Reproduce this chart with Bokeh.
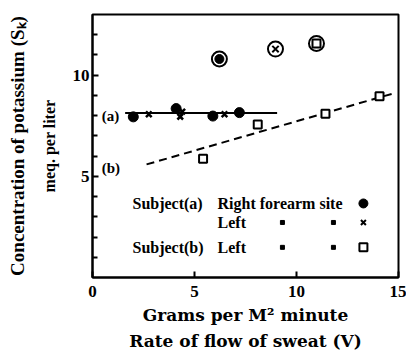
from bokeh.plotting import figure
from bokeh.models import FixedTicker, Range1d, Title
from bokeh.core.properties import value
from bokeh.embed import file_html
from bokeh.resources import INLINE

# ---- data ----
a_right_x = [2.0, 4.1, 5.9, 7.2]
a_right_y = [7.94, 8.35, 7.98, 8.15]
a_left_x = [2.76, 4.4, 4.3, 6.47]
a_left_y = [8.07, 8.2, 7.95, 8.07]
b_left_x = [5.42, 8.1, 11.42, 14.07]
b_left_y = [5.87, 7.56, 8.1, 8.96]
mean_a_right = (6.22, 10.8)
mean_a_left = (8.97, 11.29)
mean_b_left = (10.98, 11.57)
line_a_x = [1.6, 9.05]
line_a_y = [8.13, 8.13]
line_b_x = [2.65, 14.72]
line_b_y = [5.59, 9.09]
x_ticks = [0, 5, 10, 15]
y_ticks = [5, 10]
y_minor = [1, 2, 3, 4, 6, 7, 8, 9, 11, 12]

FONT = "Liberation Serif"
WIDE = "DejaVu Serif"
W, H = 406, 351

p = figure(width=W, height=H, x_range=Range1d(0, 15), y_range=Range1d(0, 13),
           output_backend="svg", toolbar_location=None,
           min_border_left=92, min_border_right=8, min_border_top=14, min_border_bottom=74)
p.grid.visible = False
p.background_fill_color = "white"
p.outline_line_color = "black"
p.outline_line_width = 2

for ax in (p.xaxis, p.yaxis):
    ax.axis_line_width = 2
    ax.axis_line_color = "black"
    ax.major_tick_out = 0
    ax.major_tick_in = 6
    ax.minor_tick_out = 0
    ax.minor_tick_in = 5
    ax.major_tick_line_width = 2
    ax.minor_tick_line_width = 2
    ax.major_label_text_font = FONT
    ax.major_label_text_font_style = "bold"
    ax.major_label_text_font_size = "17px"
    ax.major_label_text_color = "black"

p.xaxis.ticker = FixedTicker(ticks=x_ticks, minor_ticks=[])
p.yaxis.ticker = FixedTicker(ticks=y_ticks, minor_ticks=y_minor)
p.xaxis.major_label_standoff = 8
p.yaxis.major_label_standoff = 3

# lines
p.line(line_a_x, line_a_y, line_color="black", line_width=2)
p.line(line_b_x, line_b_y, line_color="black", line_width=2, line_dash="8 5")

# points
p.scatter(a_right_x, a_right_y, marker="circle", size=10, fill_color="black", line_color="black")
p.scatter(a_left_x, a_left_y, marker="x", size=8, line_color="black", line_width=2.5)
p.scatter(b_left_x, b_left_y, marker="square", size=8, fill_color="white", line_color="black", line_width=2)

# means (circled)
mx = [mean_a_right[0], mean_a_left[0], mean_b_left[0]]
my = [mean_a_right[1], mean_a_left[1], mean_b_left[1]]
p.scatter(mx, my, marker="circle", size=15, fill_color="white", line_color="black", line_width=2)
p.scatter([mean_a_right[0]], [mean_a_right[1]], marker="circle", size=9, fill_color="black", line_color="black")
p.scatter([mean_a_left[0]], [mean_a_left[1]], marker="x", size=9, line_color="black", line_width=2)
p.scatter([mean_b_left[0]], [mean_b_left[1]], marker="square", size=8, fill_color="white", line_color="black", line_width=2)

# in-plot labels
p.text([0.45, 0.45], [8.0, 5.4], text=["(a)", "(b)"], text_font=value(FONT), text_font_style="bold",
       text_font_size="15px", text_baseline="middle", text_align="left", text_color="black")

# legend rows
lx = [1.96, 6.13, 1.96, 6.13, 6.13]
ly = [3.66, 3.66, 1.49, 1.49, 2.72]
lt = ["Subject(a)", "Right forearm site", "Subject(b)", "Left", "Left"]
p.text(lx, ly, text=lt, text_font=value(FONT), text_font_style="bold", text_font_size="16px",
       text_baseline="middle", text_align="left", text_color="black")
p.scatter([13.28], [3.66], marker="circle", size=9, fill_color="black", line_color="black")
p.scatter([13.28], [2.72], marker="x", size=7, line_color="black", line_width=2)
p.scatter([13.28], [1.49], marker="square", size=8, fill_color="white", line_color="black", line_width=2)
p.scatter([9.31, 11.81, 9.31, 11.81], [2.72, 2.72, 1.49, 1.49], marker="square", size=4,
          fill_color="black", line_color="black")

# axis titles as Title panels
def ttl(text, place, font, size, standoff, style="bold"):
    p.add_layout(Title(text=text, align="center", text_font=font, text_font_style=style,
                       text_font_size=size, text_color="black", standoff=standoff), place)

ttl("meq. per liter", "left", FONT, "16px", 23)
ttl("Concentration of potassium (Sₖ)", "left", FONT, "19px", 0)
ttl("Grams per M² minute", "below", WIDE, "17px", 6)
ttl("Rate of flow of sweat (V)", "below", WIDE, "17px", 2)

open("out.html", "w").write(file_html(p, INLINE))
